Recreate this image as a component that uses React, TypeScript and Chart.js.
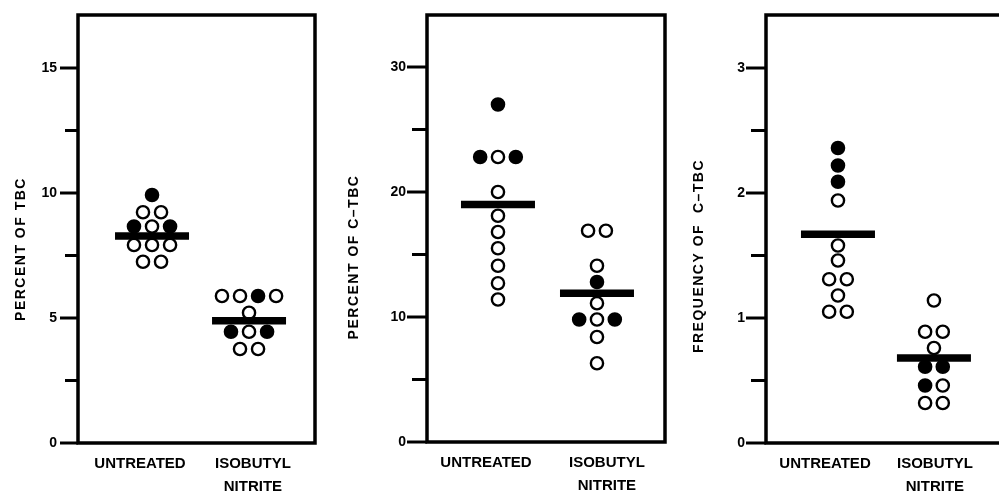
import React, { useEffect, useRef } from 'react';
import { Chart, registerables } from 'chart.js';

Chart.register(...registerables);

// ---------- data ----------
const categoryLabels: string[][] = [['UNTREATED'], ['ISOBUTYL', 'NITRITE']];

// Panel 1: percent of TBC
const tbcUntreated = [9.92, 9.23, 9.23, 8.66, 8.66, 8.66, 7.92, 7.92, 7.92, 7.25, 7.25];
const tbcUntreatedFilled = [1, 0, 0, 1, 0, 1, 0, 0, 0, 0, 0];
const tbcNitrite = [5.88, 5.88, 5.88, 5.88, 5.21, 4.45, 4.45, 4.45, 3.76, 3.76];
const tbcNitriteFilled = [0, 0, 1, 0, 0, 1, 0, 1, 0, 0];
const tbcMeans = [8.28, 4.89];
const tbcTicks = [0, 2.5, 5, 7.5, 10, 12.5, 15];
const tbcTickLabels = ['0', '', '5', '', '10', '', '15'];

// Panel 2: percent of C-TBC
const ctbcUntreated = [27.0, 22.8, 22.8, 22.8, 20.0, 18.1, 16.8, 15.5, 14.1, 12.7, 11.4];
const ctbcUntreatedFilled = [1, 1, 0, 1, 0, 0, 0, 0, 0, 0, 0];
const ctbcNitrite = [16.9, 16.9, 14.1, 12.8, 11.1, 9.8, 9.8, 9.8, 8.4, 6.3];
const ctbcNitriteFilled = [0, 0, 0, 1, 0, 1, 0, 1, 0, 0];
const ctbcMeans = [19.0, 11.9];
const ctbcTicks = [0, 5, 10, 15, 20, 25, 30];
const ctbcTickLabels = ['0', '', '10', '', '20', '', '30'];

// Panel 3: frequency of C-TBC
const freqUntreated = [2.36, 2.22, 2.09, 1.94, 1.58, 1.46, 1.31, 1.31, 1.18, 1.05, 1.05];
const freqUntreatedFilled = [1, 1, 1, 0, 0, 0, 0, 0, 0, 0, 0];
const freqNitrite = [1.14, 0.89, 0.89, 0.76, 0.61, 0.61, 0.46, 0.46, 0.32, 0.32];
const freqNitriteFilled = [0, 0, 0, 0, 1, 1, 1, 0, 0, 0];
const freqMeans = [1.67, 0.68];
const freqTicks = [0, 0.5, 1, 1.5, 2, 2.5, 3];
const freqTickLabels = ['0', '', '1', '', '2', '', '3'];

// ---------- helpers ----------
type Pt = { x: number; y: number };

function swarm(values: number[], filled: number[], center: number, gap: number) {
  const solid: Pt[] = [];
  const open: Pt[] = [];
  values.forEach((v, i) => {
    const idx = values.map((w, j) => (w === v ? j : -1)).filter((j) => j >= 0);
    const n = idx.length;
    const k = idx.indexOf(i);
    const p = { x: center + (k - (n - 1) / 2) * gap, y: v };
    (filled[i] ? solid : open).push(p);
  });
  return { solid, open };
}

const FONT = "'Liberation Sans', Arial, Helvetica, sans-serif";

const decorPlugin = {
  id: 'panelDecor',
  afterDraw(chart: any, _args: any, opts: any) {
    const { ctx, chartArea } = chart;
    const y = chart.scales.y;
    ctx.save();
    ctx.strokeStyle = '#000';
    ctx.lineWidth = 3.5;
    ctx.strokeRect(chartArea.left, chartArea.top, chartArea.right - chartArea.left, chartArea.bottom - chartArea.top);
    // ticks
    ctx.lineWidth = 3;
    (opts.tickValues as number[]).forEach((v, i) => {
      const py = y.getPixelForValue(v);
      const len = opts.tickLabels[i] ? opts.majorLen : opts.minorLen;
      ctx.beginPath();
      ctx.moveTo(chartArea.left - len, py);
      ctx.lineTo(chartArea.left, py);
      ctx.stroke();
    });
    // y title
    ctx.translate(opts.titleX, opts.titleY);
    ctx.rotate(-Math.PI / 2);
    ctx.fillStyle = '#000';
    ctx.font = `bold 14px ${FONT}`;
    try { (ctx as any).letterSpacing = '1.5px'; } catch (e) {}
    ctx.textAlign = 'center';
    ctx.textBaseline = 'middle';
    ctx.fillText(opts.title, 0, 0);
    ctx.restore();
  },
};

type PanelProps = {
  left: number;
  width: number;
  yWidth: number;
  padRight: number;
  bottomH: number;
  xMin: number;
  xMax: number;
  labelX: number[];
  gap: number;
  yMax: number;
  untreated: number[];
  untreatedFilled: number[];
  nitrite: number[];
  nitriteFilled: number[];
  means: number[];
  ticks: number[];
  tickLabels: string[];
  title: string;
  titleX: number;
  titleY: number;
  majorLen: number;
  minorLen: number;
};

function zeroPad(axis: any) {
  axis.paddingTop = 0;
  axis.paddingBottom = 0;
  axis.paddingLeft = 0;
  axis.paddingRight = 0;
}

function Panel(p: PanelProps) {
  const ref = useRef<HTMLCanvasElement>(null);
  useEffect(() => {
    if (!ref.current) return;
    const a = swarm(p.untreated, p.untreatedFilled, 1, p.gap);
    const b = swarm(p.nitrite, p.nitriteFilled, 2, p.gap);
    const chart = new Chart(ref.current, {
      type: 'scatter',
      data: {
        datasets: [
          {
            label: 'mean',
            data: p.means.map((m, i) => ({ x: i + 1, y: m })),
            pointStyle: 'line',
            pointRadius: 37,
            borderWidth: 7.5,
            borderColor: '#000',
            backgroundColor: '#000',
            order: 0,
          },
          {
            label: 'open',
            data: [...a.open, ...b.open],
            pointStyle: 'circle',
            pointRadius: 6.1,
            borderWidth: 2.4,
            borderColor: '#000',
            backgroundColor: '#fff',
            order: 1,
          },
          {
            label: 'filled',
            data: [...a.solid, ...b.solid],
            pointStyle: 'circle',
            pointRadius: 6.1,
            borderWidth: 2.4,
            borderColor: '#000',
            backgroundColor: '#000',
            order: 2,
          },
        ],
      },
      options: {
        responsive: false,
        animation: false,
        events: [],
        layout: { autoPadding: false, padding: { top: 15, right: p.padRight, left: 0, bottom: 0 } },
        plugins: {
          legend: { display: false },
          tooltip: { enabled: false },
          panelDecor: {
            tickValues: p.ticks,
            tickLabels: p.tickLabels,
            majorLen: p.majorLen,
            minorLen: p.minorLen,
            title: p.title,
            titleX: p.titleX,
            titleY: p.titleY,
          },
        } as any,
        scales: {
          x: {
            type: 'linear',
            min: p.xMin,
            max: p.xMax,
            grid: { display: false, drawTicks: false },
            border: { display: false },
            afterBuildTicks: (axis: any) => {
              axis.ticks = p.labelX.map((v) => ({ value: v }));
            },
            afterFit: (axis: any) => {
              axis.height = p.bottomH;
              zeroPad(axis);
            },
            ticks: {
              autoSkip: false,
              maxRotation: 0,
              padding: 10,
              color: '#000',
              font: { family: FONT, size: 15, weight: 'bold', lineHeight: 1.5 },
              callback: (_v: any, i: number) => categoryLabels[i],
            },
          },
          y: {
            type: 'linear',
            min: 0,
            max: p.yMax,
            grid: { display: false, drawTicks: false },
            border: { display: false },
            afterBuildTicks: (axis: any) => {
              axis.ticks = p.ticks.map((v) => ({ value: v }));
            },
            afterFit: (axis: any) => {
              axis.width = p.yWidth;
              zeroPad(axis);
            },
            ticks: {
              autoSkip: false,
              padding: 21,
              color: '#000',
              font: { family: FONT, size: 14, weight: 'bold' },
              callback: (_v: any, i: number) => p.tickLabels[i],
            },
          },
        },
      } as any,
      plugins: [decorPlugin],
    });
    return () => chart.destroy();
  }, []);
  return (
    <canvas
      ref={ref}
      width={p.width}
      height={493}
      style={{ position: 'absolute', left: p.left, top: 0, width: p.width, height: 493 }}
    />
  );
}

export default function App() {
  return (
    <div
      style={{
        position: 'absolute',
        left: 0,
        top: 0,
        width: 999,
        height: 493,
        overflow: 'hidden',
        background: '#fff',
      }}
    >
      <Panel
        left={0}
        width={330}
        yWidth={78}
        padRight={15}
        bottomH={50}
        xMin={0.237}
        xMax={2.68}
        labelX={[0.876, 2.04]}
        gap={0.186}
        yMax={17.12}
        untreated={tbcUntreated}
        untreatedFilled={tbcUntreatedFilled}
        nitrite={tbcNitrite}
        nitriteFilled={tbcNitriteFilled}
        means={tbcMeans}
        ticks={tbcTicks}
        tickLabels={tbcTickLabels}
        title="PERCENT OF TBC"
        titleX={21}
        titleY={249}
        majorLen={18}
        minorLen={13}
      />
      <Panel
        left={330}
        width={340}
        yWidth={97}
        padRight={5}
        bottomH={51}
        xMin={0.283}
        xMax={2.687}
        labelX={[0.879, 2.1]}
        gap={0.18}
        yMax={34.16}
        untreated={ctbcUntreated}
        untreatedFilled={ctbcUntreatedFilled}
        nitrite={ctbcNitrite}
        nitriteFilled={ctbcNitriteFilled}
        means={ctbcMeans}
        ticks={ctbcTicks}
        tickLabels={ctbcTickLabels}
        title="PERCENT OF C–TBC"
        titleX={24}
        titleY={257}
        majorLen={20}
        minorLen={15}
      />
      <Panel
        left={670}
        width={340}
        yWidth={96}
        padRight={6}
        bottomH={50}
        xMin={0.25}
        xMax={2.73}
        labelX={[0.865, 2.01]}
        gap={0.184}
        yMax={3.424}
        untreated={freqUntreated}
        untreatedFilled={freqUntreatedFilled}
        nitrite={freqNitrite}
        nitriteFilled={freqNitriteFilled}
        means={freqMeans}
        ticks={freqTicks}
        tickLabels={freqTickLabels}
        title="FREQUENCY OF  C–TBC"
        titleX={29}
        titleY={256}
        majorLen={20}
        minorLen={15}
      />
    </div>
  );
}
